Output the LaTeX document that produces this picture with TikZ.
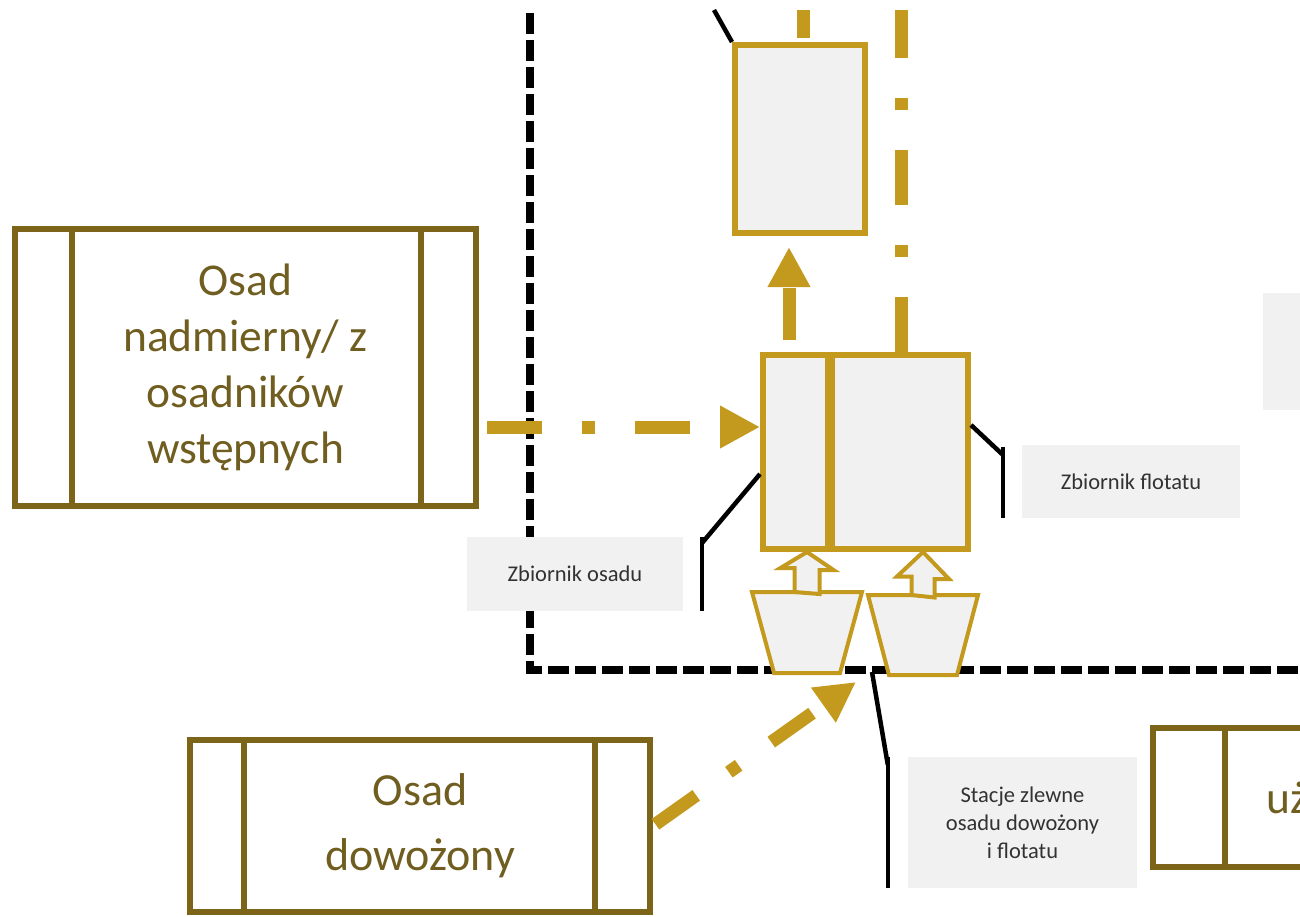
\documentclass[tikz,border=0pt]{standalone}
\usepackage{fontspec}
\setmainfont{Carlito}
\usetikzlibrary{arrows.meta,calc}

\definecolor{zloty}{RGB}{196,154,30}
\definecolor{oliwka}{RGB}{124,101,24}
\definecolor{tekstOliwka}{RGB}{112,94,32}
\definecolor{szary}{RGB}{241,241,241}
\definecolor{tekstSzary}{RGB}{50,50,50}

\tikzset{
  duzyBlok/.style={draw=oliwka, line width=6pt, text=tekstOliwka, align=center, inner sep=0pt},
  zbiornik/.style={draw=zloty, fill=szary, line width=6pt, inner sep=0pt},
  lejek/.style={draw=zloty, fill=szary, line width=4pt, line join=miter},
  opis/.style={fill=szary, text=tekstSzary, align=center, inner sep=0pt, font=\fontsize{22.5}{28}\selectfont},
  odnosnik/.style={draw=black, line width=4.5pt},
  przeplyw/.style={draw=zloty, line width=13pt, -{Triangle[length=40pt,width=40pt]}},
  strzalkaBlok/.style={draw=zloty, fill=szary, line width=4pt, line join=miter},
  granica/.style={draw=black, line width=8pt, dash pattern=on 21pt off 6pt}
}

\begin{document}
\begin{tikzpicture}[x=1pt,y=-1pt]
    \useasboundingbox (0,0) rectangle (1300,916);
    \clip (0,0) rectangle (1300,916);
    \draw[granica] (530,13) -- (530,670) -- (1310,670); % granica terenu

    \node[duzyBlok, minimum width=461pt, minimum height=277pt, font=\fontsize{45.5}{56}\selectfont] (nadmierny) at (245.5,367.5) {Osad\\nadmierny/ z\\osadników\\wstępnych};
    \draw[oliwka, line width=6pt] ($(nadmierny.north west)+(60,0)$) -- ($(nadmierny.south west)+(60,0)$);
    \draw[oliwka, line width=6pt] ($(nadmierny.north east)+(-58,0)$) -- ($(nadmierny.south east)+(-58,0)$);
    \node[duzyBlok, minimum width=460pt, minimum height=172pt, font=\fontsize{46}{65}\selectfont] (dowozony) at (420,826) {Osad\\dowożony};
    \draw[oliwka, line width=6pt] ($(dowozony.north west)+(57,0)$) -- ($(dowozony.south west)+(57,0)$);
    \draw[oliwka, line width=6pt] ($(dowozony.north east)+(-58,0)$) -- ($(dowozony.south east)+(-58,0)$);
    \node[duzyBlok, minimum width=400pt, minimum height=139pt] (uzytek) at (1353,797.5) {};
    \draw[oliwka, line width=6pt] ($(uzytek.north west)+(75,0)$) -- ($(uzytek.south west)+(75,0)$);
    \node[anchor=base west, text=tekstOliwka, inner sep=0pt, font=\fontsize{45.5}{56}\selectfont] (uzTekst) at (1266,813) {uż};

    \node[zbiornik, minimum width=205pt, minimum height=194pt] (zbiorniki) at (865.5,452) {};
    \draw[zloty, line width=10pt] ($(zbiorniki.north west)+(70,0)$) -- ($(zbiorniki.south west)+(70,0)$);
    \node[zbiornik, minimum width=130pt, minimum height=188pt] (zbGorny) at (800,139) {};

    \node[opis, minimum width=216pt, minimum height=74pt] (opisOsad) at (575,574) {Zbiornik osadu};
    \node[opis, minimum width=218pt, minimum height=73pt] (opisFlot) at (1131,481.5) {Zbiornik flotatu};
    \node[opis, minimum width=229pt, minimum height=131pt] (opisStacje) at (1022.5,822.5) {Stacje zlewne\\osadu dowożony\\i flotatu};
    \node[opis, minimum width=74pt, minimum height=117pt] (opisPrawy) at (1300,351.5) {};

    % przeplywy osadu
    \coordinate (wlotOsad) at ($(zbiorniki.west)+(0,-25)$);
    \coordinate (stacje) at (856,682);
    \coordinate (wylot) at ($(zbiorniki.north west)+(29,0)$);
    \coordinate (odplyw) at ($(zbiorniki.north east)+(-70,0)$);
    \draw[przeplyw, shorten <=8pt, dash pattern=on 55pt off 40pt on 13pt off 40pt] (nadmierny.east |- wlotOsad) -- (wlotOsad);
    \draw[przeplyw, shorten <=3pt, dash pattern=on 50pt off 40pt on 12pt off 40pt] (dowozony.east) -- (stacje);
    \draw[przeplyw, shorten <=12pt, shorten >=11pt, dash pattern=on 52pt off 40pt] (wylot) -- (wylot |- zbGorny.south);
    \draw[zloty, line width=13pt, dash pattern=on 55pt off 40pt on 12pt off 40pt] (odplyw) -- ++(0,-342);
    \draw[zloty, line width=13pt] ($(zbGorny.north)+(3,-4)$) -- ++(0,-28);

    % odnosniki opisow
    \draw[odnosnik] (zbGorny.north west) -- ++(-18,-32);
    \draw[odnosnik] ($(opisOsad.north east)+(19,0)$) -- ($(opisOsad.south east)+(19,0)$);
    \draw[odnosnik] ($(zbiorniki.west)+(0,22)$) -- ($(opisOsad.north east)+(19,6)$);
    \draw[odnosnik] ($(opisFlot.north west)+(-19,2)$) -- ($(opisFlot.south west)+(-19,0)$);
    \draw[odnosnik] ($(zbiorniki.east)+(0,-27)$) -- ($(opisFlot.north west)+(-19,10)$);
    \draw[odnosnik] ($(opisStacje.north west)+(-20,0)$) -- ($(opisStacje.south west)+(-20,0)$);
    \coordinate (punktStacji) at (872,672);
    \draw[odnosnik] (punktStacji) -- ($(opisStacje.north west)+(-20,8)$);

    % stacje zlewne
    \coordinate (lejekOsad) at (807,592);
    \coordinate (lejekFlot) at (923,595);
    \draw[lejek] ($(lejekOsad)+(-55,0)$) -- ++(110,0) -- ++(-22,81) -- ++(-66,0) -- cycle;
    \draw[lejek] ($(lejekFlot)+(-55,0)$) -- ++(110,0) -- ++(-21,80) -- ++(-68,0) -- cycle;
    \draw[strzalkaBlok] ($(lejekOsad)+(-12.5,0)$) -- ++(0,-24) -- ++(-14,0) -- (lejekOsad |- zbiorniki.south) -- ++(26.5,18) -- ++(-14,0) -- ++(0,24) -- cycle;
    \draw[strzalkaBlok] ($(lejekFlot)+(-11.5,0)$) -- ++(0,-18.5) -- ++(-14.5,0) -- (lejekFlot |- zbiorniki.south) -- ++(26,27) -- ++(-14.5,0) -- ++(0,18.5) -- cycle;
\end{tikzpicture}
\end{document}
